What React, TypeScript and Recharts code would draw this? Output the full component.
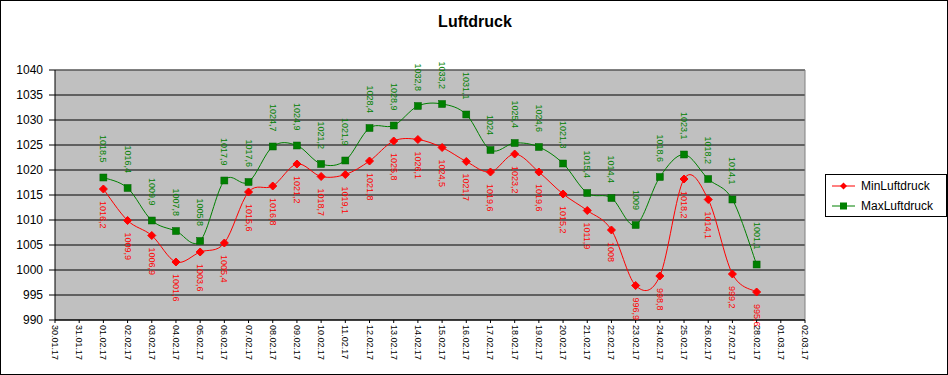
import React from "react";
import {
  ComposedChart,
  Line,
  XAxis,
  YAxis,
  CartesianGrid,
  LabelList,
  ReferenceLine,
} from "recharts";

const dateLabels = [
  "30.01.17", "31.01.17", "01.02.17", "02.02.17", "03.02.17", "04.02.17", "05.02.17", "06.02.17",
  "07.02.17", "08.02.17", "09.02.17", "10.02.17", "11.02.17", "12.02.17", "13.02.17", "14.02.17",
  "15.02.17", "16.02.17", "17.02.17", "18.02.17", "19.02.17", "20.02.17", "21.02.17", "22.02.17",
  "23.02.17", "24.02.17", "25.02.17", "26.02.17", "27.02.17", "28.02.17", "01.03.17", "02.03.17",
];

// first measured day is 01.02.17 (index 2 on the date axis)
const firstDay = 2;

const minLuftdruck = [
  1016.2, 1009.9, 1006.9, 1001.6, 1003.6, 1005.4, 1015.6, 1016.8, 1021.2, 1018.7,
  1019.1, 1021.8, 1025.8, 1026.1, 1024.5, 1021.7, 1019.6, 1023.2, 1019.6, 1015.2,
  1011.9, 1008, 996.9, 998.8, 1018.2, 1014.1, 999.2, 995.6,
];

const maxLuftdruck = [
  1018.5, 1016.4, 1009.9, 1007.8, 1005.8, 1017.9, 1017.6, 1024.7, 1024.9, 1021.2,
  1021.9, 1028.4, 1028.9, 1032.8, 1033.2, 1031.1, 1024, 1025.4, 1024.6, 1021.3,
  1015.4, 1014.4, 1009, 1018.6, 1023.1, 1018.2, 1014.1, 1001.1,
];

const yTicks = [990, 995, 1000, 1005, 1010, 1015, 1020, 1025, 1030, 1035, 1040];

const data = minLuftdruck.map((v, i) => ({
  day: firstDay + i,
  min: v,
  max: maxLuftdruck[i],
}));

const FONT = "Arial, 'Liberation Sans', sans-serif";
const RED = "#ff0000";
const GREEN = "#008000";

// Excel-style smoothed line (Catmull-Rom as cubic bezier)
const excelCurve = (context: any) => {
  let pts: number[][] = [];
  return {
    areaStart() {},
    areaEnd() {},
    lineStart() {
      pts = [];
    },
    lineEnd() {
      const n = pts.length;
      if (!n) return;
      context.moveTo(pts[0][0], pts[0][1]);
      for (let i = 0; i < n - 1; i++) {
        const p0 = pts[i - 1] || pts[i];
        const p1 = pts[i];
        const p2 = pts[i + 1];
        const p3 = pts[i + 2] || p2;
        context.bezierCurveTo(
          p1[0] + (p2[0] - p0[0]) / 6,
          p1[1] + (p2[1] - p0[1]) / 6,
          p2[0] - (p3[0] - p1[0]) / 6,
          p2[1] - (p3[1] - p1[1]) / 6,
          p2[0],
          p2[1]
        );
      }
    },
    point(x: number, y: number) {
      pts.push([+x, +y]);
    },
  };
};

const fmt = (v: number) => String(v).replace(".", ",");

const Diamond = ({ cx, cy }: any) => (
  <polygon
    points={`${cx},${cy - 4} ${cx + 4},${cy} ${cx},${cy + 4} ${cx - 4},${cy}`}
    fill={RED}
    stroke={RED}
  />
);

const Square = ({ cx, cy }: any) => (
  <rect x={cx - 3.5} y={cy - 3.5} width={7} height={7} fill={GREEN} stroke="#006000" strokeWidth={0.5} />
);

const MinLabel = ({ x, y, value }: any) => (
  <text
    transform={`translate(${x},${y + 12}) rotate(90)`}
    textAnchor="start"
    dominantBaseline="central"
    fontSize={9}
    fontFamily={FONT}
    fill={RED}
  >
    {fmt(value)}
  </text>
);

const MaxLabel = ({ x, y, value }: any) => (
  <text
    transform={`translate(${x},${y - 15}) rotate(90)`}
    textAnchor="end"
    dominantBaseline="central"
    fontSize={9}
    fontFamily={FONT}
    fill={GREEN}
  >
    {fmt(value)}
  </text>
);

const DateTick = ({ x, y, payload }: any) => (
  <text
    transform={`translate(${x},${y}) rotate(90)`}
    textAnchor="start"
    dominantBaseline="central"
    fontSize={9}
    fontFamily={FONT}
    fill="#000"
  >
    {dateLabels[payload.value]}
  </text>
);

const legendItems = [
  { name: "MinLuftdruck", color: RED, marker: "diamond" },
  { name: "MaxLuftdruck", color: GREEN, marker: "square" },
];

const LegendBox = () => (
  <div
    style={{
      position: "absolute",
      left: 824,
      top: 173,
      border: "1px solid #000",
      background: "#fff",
      width: 120,
      height: 41,
      fontFamily: FONT,
      fontSize: 12,
      color: "#000",
    }}
  >
    {legendItems.map((item, i) => (
      <div key={item.name} style={{ display: "flex", alignItems: "center", height: 20, marginTop: i === 0 ? 1 : 0 }}>
        <svg width={35} height={20} style={{ display: "block" }}>
          <line x1={6} x2={29} y1={10} y2={10} stroke={item.color} strokeWidth={1} />
          {item.marker === "diamond" ? (
            <polygon points="17.5,6.5 21,10 17.5,13.5 14,10" fill={item.color} />
          ) : (
            <rect x={14} y={6.5} width={7} height={7} fill={item.color} />
          )}
        </svg>
        <span>{item.name}</span>
      </div>
    ))}
  </div>
);

export default function App() {
  return (
    <div
      style={{
        position: "absolute",
        left: 0,
        top: 0,
        width: 948,
        height: 375,
        boxSizing: "border-box",
        border: "1px solid #000",
        background: "#fff",
        overflow: "hidden",
      }}
    >
      <div
        style={{
          position: "absolute",
          left: 0,
          width: 948,
          top: 12,
          textAlign: "center",
          fontFamily: FONT,
          fontWeight: "bold",
          fontSize: 16,
        }}
      >
        Luftdruck
      </div>
      <div style={{ position: "absolute", left: -1, top: -1 }}>
        <ComposedChart width={948} height={375} data={data} margin={{ top: 70, right: 143, bottom: 0, left: 0 }}>
          <CartesianGrid vertical={false} stroke="#000" fill="#c0c0c0" fillOpacity={1} />
          <XAxis
            dataKey="day"
            type="number"
            domain={[0, 31]}
            ticks={dateLabels.map((_, i) => i)}
            interval={0}
            height={55}
            tickSize={3}
            tickMargin={2}
            tick={<DateTick />}
            axisLine={{ stroke: "#000" }}
            tickLine={{ stroke: "#000" }}
          />
          <YAxis
            domain={[990, 1040]}
            ticks={yTicks}
            interval={0}
            width={55}
            tickSize={6}
            tickMargin={6}
            tick={{ fontSize: 12, fontFamily: FONT, fill: "#000" }}
            axisLine={{ stroke: "#000" }}
            tickLine={{ stroke: "#000" }}
          />
          <ReferenceLine y={1040} stroke="#808080" />
          <ReferenceLine x={31} stroke="#808080" />
          <Line
            dataKey="min"
            name="MinLuftdruck"
            type={excelCurve as any}
            stroke={RED}
            strokeWidth={1}
            dot={<Diamond />}
            activeDot={false}
            isAnimationActive={false}
          >
            <LabelList dataKey="min" content={<MinLabel />} />
          </Line>
          <Line
            dataKey="max"
            name="MaxLuftdruck"
            type={excelCurve as any}
            stroke={GREEN}
            strokeWidth={1}
            dot={<Square />}
            activeDot={false}
            isAnimationActive={false}
          >
            <LabelList dataKey="max" content={<MaxLabel />} />
          </Line>
        </ComposedChart>
      </div>
      <LegendBox />
    </div>
  );
}
